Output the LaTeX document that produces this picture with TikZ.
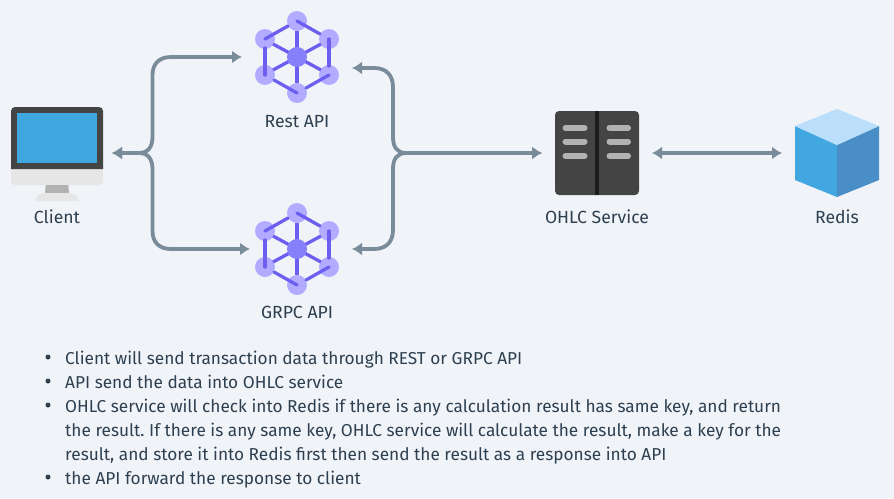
\documentclass[tikz,border=0pt]{standalone}
\usepackage{fontspec}
\setmainfont{Fira Sans}
\usetikzlibrary{arrows.meta}
\definecolor{bgc}{HTML}{F0F4F8}
\definecolor{conn}{HTML}{7A8B99}
\definecolor{txt}{HTML}{2D3F50}
\definecolor{hexl}{HTML}{B1ACFF}
\definecolor{hexc}{HTML}{8680FA}
\definecolor{hexd}{HTML}{6C5FF0}
\definecolor{scr}{HTML}{3FA6DE}
\definecolor{dark}{HTML}{444444}
\definecolor{darker}{HTML}{1C1C1C}
\definecolor{pale}{HTML}{E6E6E6}
\definecolor{mid}{HTML}{B2B2B2}
\definecolor{cubet}{HTML}{BBDEFB}
\definecolor{cubel}{HTML}{42A6E0}
\definecolor{cuber}{HTML}{4A8EC8}
\tikzset{
 icon/.style={inner sep=0pt,outer sep=0pt,draw=none,minimum width=110pt,minimum height=94pt},
 lab/.style={font=\fontsize{17.6}{20}\selectfont,text=txt,inner sep=0pt,anchor=base},
 link/.style={draw=conn,line width=3.8pt,{Latex[length=10pt,width=13pt]}-{Latex[length=10pt,width=13pt]}},
 bar/.style={line width=3.3pt,hexd,line cap=round},
 spoke/.style={line width=3.3pt,hexd},
 notes/.style={font=\fontsize{17.25}{20}\selectfont\frenchspacing,text=txt,inner sep=0pt,anchor=base west},
 blt/.style={fill=txt,circle,inner sep=0pt,minimum size=5pt},
 rack/.style={mid,line width=6pt,line cap=round},
}
\newcommand{\hexicon}[2]{%
 \begin{scope}[shift={(#1,#2)}]
 \foreach \p in {(0,-36),(32,-18),(32,18),(0,36),(-32,18),(-32,-18)} \fill[hexl] \p circle (10);
 \foreach \p in {(0,-26),(24,-13),(24,13),(0,26),(-24,13),(-24,-13)} \draw[spoke] (0,0) -- \p;
 \fill[hexc] (0,0) circle (10);
 \draw[bar] (-32,-18) -- (-9,-31);
 \draw[bar] (0,-36) -- (23,-23);
 \draw[bar] (32,-18) -- (32,9);
 \draw[bar] (32,18) -- (9,31);
 \draw[bar] (0,36) -- (-23,23);
 \draw[bar] (-32,18) -- (-32,-9);
 \end{scope}}
\begin{document}
\begin{tikzpicture}[x=1pt,y=-1pt]
\useasboundingbox (0,0) rectangle (894,498);
\fill[bgc] (0,0) rectangle (894,498);
% client icon
\node[icon] (client) at (57,153) {};
\fill[pale,rounded corners=4pt] (11,150) -- (11,185) -- (103,185) -- (103,150) -- cycle;
\fill[mid] (45.7,185) -- (68.3,185) -- (69,193) -- (45,193) -- cycle;
\fill[pale] (35,201) .. controls (36,195) and (40,193) .. (45,193) -- (69,193) .. controls (74,193) and (78,195) .. (79,201) -- cycle;
\fill[dark] (11,169) -- (11,111) arc[start angle=180,end angle=270,radius=4] -- (99,107) arc[start angle=270,end angle=360,radius=4] -- (103,169) -- cycle;
\fill[scr] (17,113) rectangle (97,163);
% api icons
\node[icon] (rest) at (297,57) {};
\hexicon{297}{57}
\node[icon] (grpc) at (297,249) {};
\hexicon{297}{249}
% service icon
\node[icon] (ohlc) at (597,153) {};
\fill[dark,rounded corners=4pt] (555,111) rectangle (639,195);
\fill[darker] (595,111) rectangle (599,195);
\foreach \y in {128,141.5,156} {
 \draw[rack] (565.5,\y) -- (584.5,\y);
 \draw[rack] (609.5,\y) -- (628,\y);
}
% redis icon
\node[icon] (redis) at (837,153) {};
\fill[cubel] (795,126) -- (837,145) -- (837,197) -- (795,180) -- cycle;
\fill[cuber] (879,126) -- (837,145) -- (837,197) -- (879,180) -- cycle;
\fill[cubet] (837,109) -- (879,126) -- (837,145) -- (795,126) -- cycle;
% labels
\node[lab] (lclient) at (57,223) {Client};
\node[lab] (lrest) at (297,127) {Rest API};
\node[lab] (lgrpc) at (297,318) {GRPC API};
\node[lab] (lohlc) at (597,223) {OHLC Service};
\node[lab] (lredis) at (837,223) {Redis};
% connectors
\draw[link] (client.east) -- (139,153) .. controls (148,153) and (152.5,147) .. (152.5,137) -- (152.5,75) .. controls (152.5,63) and (160,57) .. (171,57) -- (rest.west);
\draw[link] (client.east) -- (139,153) .. controls (148,153) and (152.5,159) .. (152.5,169) -- (152.5,231) .. controls (152.5,243) and (160,249) .. (171,249) -- ([xshift=8pt]grpc.west);
\draw[link] ([yshift=-11pt]rest.east) -- (374,68) .. controls (386,68) and (393,75) .. (393,87) -- (393,137) .. controls (393,147) and (397,153) .. (406,153) -- (ohlc.west);
\draw[link] (grpc.east) -- (374,249) .. controls (386,249) and (393,242) .. (393,230) -- (393,169) .. controls (393,159) and (397,153) .. (406,153) -- (ohlc.west);
\draw[link] (ohlc.east) -- (redis.west);
% notes
\node[blt] (b1) at (48,357) {};
\node[blt] (b2) at (48,381) {};
\node[blt] (b3) at (48,405) {};
\node[blt] (b4) at (48,477) {};
\node[notes] (n1) at (65,364) {Client will send transaction data through REST or GRPC API};
\node[notes] (n2) at (65,388) {API send the data into OHLC service};
\node[notes] (n3) at (65,412) {OHLC service will check into Redis if there is any calculation result has same key, and return};
\node[notes] (n4) at (65,436) {the result. If there is any same key, OHLC service will calculate the result, make a key for the};
\node[notes] (n5) at (65,460) {result, and store it into Redis first then send the result as a response into API};
\node[notes] (n6) at (65,484) {the API forward the response to client};
\end{tikzpicture}
\end{document}
